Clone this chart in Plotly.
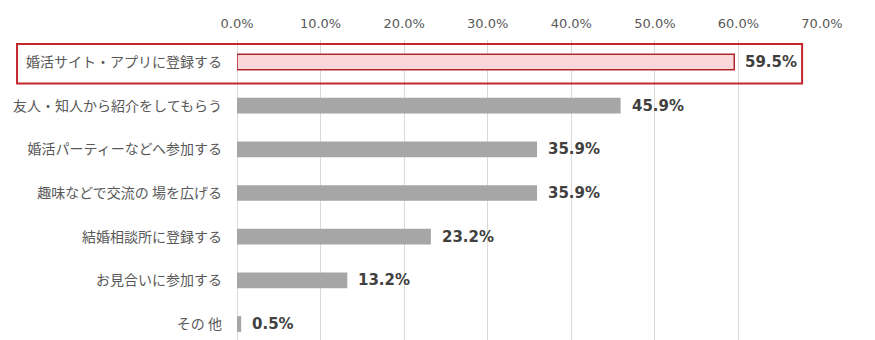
import plotly.graph_objects as go

# Survey: ways people look for a marriage partner (share of respondents, %)
categories = [
    "婚活サイト・アプリに登録する",
    "友人・知人から紹介をしてもらう",
    "婚活パーティーなどへ参加する",
    "趣味などで交流の 場を広げる",
    "結婚相談所に登録する",
    "お見合いに参加する",
    "その 他",
]
values = [59.5, 45.9, 35.9, 35.9, 23.2, 13.2, 0.5]
tick_values = [0, 10, 20, 30, 40, 50, 60, 70]
tick_labels = [f"{v:.1f}%" for v in tick_values]

highlight_index = 0
bar_fill = ["#FBD7DA" if i == highlight_index else "#A6A6A6" for i in range(len(values))]
bar_line = ["#B0282E" if i == highlight_index else "#A6A6A6" for i in range(len(values))]
bar_line_w = [1.5 if i == highlight_index else 0 for i in range(len(values))]

fig = go.Figure()
fig.add_trace(go.Bar(
    x=values,
    y=categories,
    orientation="h",
    width=0.36,
    marker=dict(color=bar_fill, line=dict(color=bar_line, width=bar_line_w)),
    hoverinfo="skip",
))

# Value labels to the right of each bar
for cat, v in zip(categories, values):
    fig.add_annotation(
        x=v, y=cat, xref="x", yref="y",
        text=f"{v:.1f}%",
        showarrow=False, xanchor="left", yanchor="middle", xshift=9,
        font=dict(family="DejaVu Sans", size=15, color="#404040", weight="bold"),
    )

# Red frame around the top answer
fig.add_shape(
    type="rect", xref="paper", yref="paper",
    x0=-0.376, x1=0.966, y0=0.855, y1=0.987,
    line=dict(color="#C4262E", width=2), fillcolor="rgba(0,0,0,0)",
    layer="above",
)

fig.update_layout(
    width=875, height=340,
    margin=dict(l=237, r=53, t=40, b=0),
    plot_bgcolor="white", paper_bgcolor="white",
    showlegend=False,
    xaxis=dict(
        side="top", range=[0, 70],
        tickvals=tick_values, ticktext=tick_labels,
        showgrid=True, gridcolor="#D9D9D9", gridwidth=1,
        zeroline=True, zerolinecolor="#D9D9D9", zerolinewidth=1,
        showline=False, ticks="",
        ticklabelstandoff=8,
        tickfont=dict(family="DejaVu Sans", size=13, color="#595959"),
        fixedrange=True,
    ),
    yaxis=dict(
        categoryorder="array", categoryarray=categories,
        range=[6.366, -0.504],
        showgrid=False, zeroline=False, showline=False, ticks="",
        ticklabelstandoff=14,
        tickfont=dict(family="Noto Sans CJK JP", size=14, color="#595959"),
        fixedrange=True,
    ),
)

fig.write_html("out.html")
